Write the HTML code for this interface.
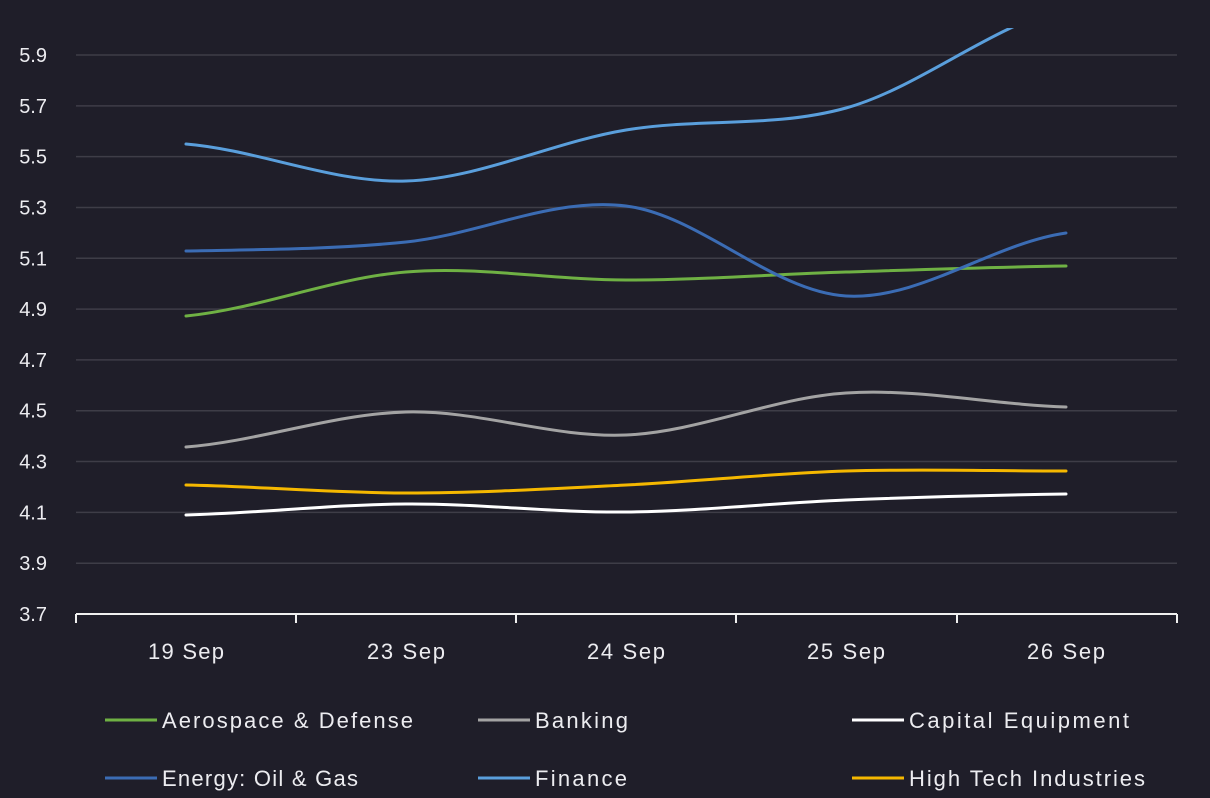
<!DOCTYPE html>
<html><head><meta charset="utf-8"><style>
html,body{margin:0;padding:0;background:#1f1e29;}
svg{display:block;font-family:"Liberation Sans",sans-serif;}
</style></head><body>
<svg id="s" width="1210" height="798" viewBox="0 0 1210 798">
<rect width="1210" height="798" fill="#1f1e29"/>
<defs><clipPath id="c"><rect x="76" y="28" width="1101" height="586"/></clipPath></defs>
<g id="grid" stroke="#3e3d47" stroke-width="1.5"></g>
<g id="yl" fill="#ececf0" font-size="20" text-anchor="end"></g>
<line x1="76" y1="614" x2="1177" y2="614" stroke="#f0f0f0" stroke-width="2"/>
<g id="ticks" stroke="#f0f0f0" stroke-width="2"></g>
<g fill="#ececf0" font-size="22">
<text x="148" y="659" textLength="76">19 Sep</text><text x="367" y="659" textLength="78">23 Sep</text><text x="587" y="659" textLength="78">24 Sep</text><text x="807" y="659" textLength="78">25 Sep</text><text x="1027" y="659" textLength="78">26 Sep</text>
</g>
<g id="series" clip-path="url(#c)" fill="none" stroke-width="3" stroke-linecap="round"></g>
<g font-size="22" fill="#ececf0">
<line x1="105" y1="720" x2="157" y2="720" stroke="#6fb144" stroke-width="3"/><text x="162" y="728" textLength="251">Aerospace &amp; Defense</text>
<line x1="478" y1="720" x2="530" y2="720" stroke="#a3a3a3" stroke-width="3"/><text x="535" y="728" textLength="93">Banking</text>
<line x1="852" y1="720" x2="904" y2="720" stroke="#ffffff" stroke-width="3"/><text x="909" y="728" textLength="220">Capital Equipment</text>
<line x1="105" y1="778" x2="157" y2="778" stroke="#3b6cb4" stroke-width="3"/><text x="162" y="786" textLength="196">Energy: Oil &amp; Gas</text>
<line x1="478" y1="778" x2="530" y2="778" stroke="#5a9fdc" stroke-width="3"/><text x="535" y="786" textLength="92">Finance</text>
<line x1="852" y1="778" x2="904" y2="778" stroke="#f5b800" stroke-width="3"/><text x="909" y="786" textLength="236">High Tech Industries</text>
</g>
</svg>
<script>
var ns="http://www.w3.org/2000/svg";
function el(p,t,a,txt){var e=document.createElementNS(ns,t);for(var k in a)e.setAttribute(k,a[k]);if(txt)e.textContent=txt;document.getElementById(p).appendChild(e);}
var labs=["5.9","5.7","5.5","5.3","5.1","4.9","4.7","4.5","4.3","4.1","3.9","3.7"];
for(var i=0;i<12;i++){var y=55+i*50.82;if(i<11)el("grid","line",{x1:76,x2:1177,y1:y,y2:y});el("yl","text",{x:47,y:y+7},labs[i]);}
[76,296,516,736,957,1177].forEach(function(x){el("ticks","line",{x1:x,x2:x,y1:614,y2:623});});
var xs=[186,406,626,846,1066];
var S=[["#6fb144",[316,272,280,272,266]],["#a3a3a3",[447,412,435,393,407]],["#ffffff",[515,504,512,500,494]],
["#3b6cb4",[251,242,206,296,233]],["#5a9fdc",[144,181,130,108,8]],["#f5b800",[485,493,485,471,471]]];
S.forEach(function(s){var p=s[1],d="M"+xs[0]+","+p[0];
for(var i=0;i<4;i++){var p0=i?p[i-1]:p[i],p3=i<3?p[i+2]:p[i+1];
var c1=p[i]+(p[i+1]-p0)/6,c2=p[i+1]-(p3-p[i])/6;
d+=" C"+(xs[i]+220/3)+","+c1+" "+(xs[i+1]-220/3)+","+c2+" "+xs[i+1]+","+p[i+1];}
el("series","path",{d:d,stroke:s[0]});});
</script>
</body></html>
